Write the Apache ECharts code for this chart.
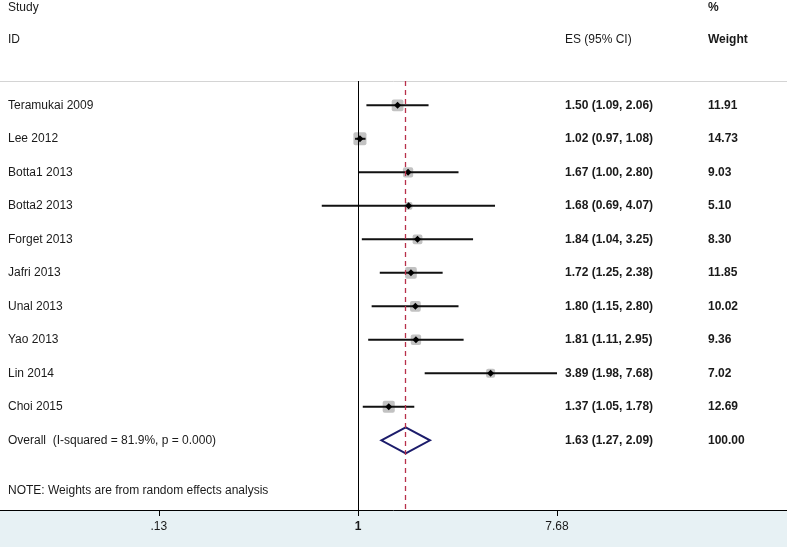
<!DOCTYPE html>
<html>
<head>
	<meta charset="utf-8">
	<title>Forest plot</title>
	<script src="https://cdn.jsdelivr.net/npm/echarts@6/dist/echarts.min.js"></script>
	<style type="text/css">
		html, body { margin: 0; padding: 0; background: #ffffff; }
		#main { width: 787px; height: 547px; }
	</style>
</head>
<body>
	<div id="main"></div>
	<script type="text/javascript">
		// studies, top to bottom
		var studies = ['Teramukai 2009', 'Lee 2012', 'Botta1 2013', 'Botta2 2013', 'Forget 2013',
			'Jafri 2013', 'Unal 2013', 'Yao 2013', 'Lin 2014', 'Choi 2015'];
		var es = [1.50, 1.02, 1.67, 1.68, 1.84, 1.72, 1.80, 1.81, 3.89, 1.37];
		var lower = [1.09, 0.97, 1.00, 0.69, 1.04, 1.25, 1.15, 1.11, 1.98, 1.05];
		var upper = [2.06, 1.08, 2.80, 4.07, 3.25, 2.38, 2.80, 2.95, 7.68, 1.78];
		var weights = [11.91, 14.73, 9.03, 5.10, 8.30, 11.85, 10.02, 9.36, 7.02, 12.69];

		var overallLabel = 'Overall  (I-squared = 81.9%, p = 0.000)';
		var overallEs = 1.63;
		var overallLower = 1.27;
		var overallUpper = 2.09;
		var overallWeight = 100.00;

		var noteText = 'NOTE: Weights are from random effects analysis';
		var xTicks = [0.13, 1, 7.68];
		var xTickLabels = ['.13', '1', '7.68'];

		var FONT = "'Liberation Sans', Arial, sans-serif";
		var TXT = '#1a1a1a';

		function fmt(v) { return v.toFixed(2); }

		// rows: 1..10 studies, 11 overall, 12.5 note
		var studyRows = [];
		for (var i = 0; i < studies.length; i++) {
			studyRows.push([i + 1, es[i], lower[i], upper[i], weights[i]]);
		}
		var overallRow = studies.length + 1;

		var textRows = [];
		for (var i = 0; i < studies.length; i++) {
			textRows.push({ value: [1, i + 1], name: studies[i],
				es: fmt(es[i]) + ' (' + fmt(lower[i]) + ', ' + fmt(upper[i]) + ')', w: fmt(weights[i]) });
		}
		textRows.push({ value: [1, overallRow], name: overallLabel,
			es: fmt(overallEs) + ' (' + fmt(overallLower) + ', ' + fmt(overallUpper) + ')', w: fmt(overallWeight) });
		textRows.push({ value: [1, overallRow + 1.5], name: noteText, es: '', w: '' });

		var myChart = echarts.init(document.getElementById('main'));

		function renderStudy(params, api) {
			var row = api.value(0);
			var pe = api.coord([api.value(1), row]);
			var pl = api.coord([api.value(2), row]);
			var ph = api.coord([api.value(3), row]);
			var s = 3.4 * Math.sqrt(api.value(4));
			var d = 3.5;
			return {
				type: 'group',
				children: [
					{ type: 'rect', shape: { x: pe[0] - s / 2, y: pe[1] - s / 2, width: s, height: s, r: 2 },
						style: { fill: '#c2c2c2' } },
					{ type: 'line', shape: { x1: pl[0], y1: pl[1], x2: ph[0], y2: ph[1] },
						style: { stroke: '#111111', lineWidth: 2 } },
					{ type: 'polygon', shape: { points: [[pe[0] - d, pe[1]], [pe[0], pe[1] - d], [pe[0] + d, pe[1]], [pe[0], pe[1] + d]] },
						style: { fill: '#000000' } }
				]
			};
		}

		function renderOverall(params, api) {
			var row = api.value(0);
			var pe = api.coord([api.value(1), row]);
			var pl = api.coord([api.value(2), row]);
			var ph = api.coord([api.value(3), row]);
			var h = 13;
			return {
				type: 'polygon',
				shape: { points: [[pl[0], pe[1]], [pe[0], pe[1] - h], [ph[0], pe[1]], [pe[0], pe[1] + h]] },
				style: { fill: 'none', stroke: '#1c1c6b', lineWidth: 2 }
			};
		}

		function renderText(params, api) {
			var item = textRows[params.dataIndex];
			var y = api.coord([1, api.value(1)])[1];
			return {
				type: 'group',
				children: [
					{ type: 'text', x: 8, y: y, style: { text: item.name, fill: TXT, font: '12px ' + FONT, verticalAlign: 'middle' } },
					{ type: 'text', x: 565, y: y, style: { text: item.es, fill: TXT, font: 'bold 12px ' + FONT, verticalAlign: 'middle' } },
					{ type: 'text', x: 708, y: y, style: { text: item.w, fill: TXT, font: 'bold 12px ' + FONT, verticalAlign: 'middle' } }
				]
			};
		}

		var xMin = 0.02555, xMax = 81.0;

		var option = {
			backgroundColor: '#ffffff',
			animation: false,
			textStyle: { fontFamily: FONT },
			graphic: [
				{ type: 'rect', z: -10, shape: { x: 0, y: 510, width: 787, height: 37 }, style: { fill: '#e7f1f4' } },
				{ type: 'text', x: 8, y: 8, style: { text: 'Study', fill: TXT, font: '12px ' + FONT, verticalAlign: 'middle' } },
				{ type: 'text', x: 708, y: 8, style: { text: '%', fill: TXT, font: 'bold 12px ' + FONT, verticalAlign: 'middle' } },
				{ type: 'text', x: 8, y: 40, style: { text: 'ID', fill: TXT, font: '12px ' + FONT, verticalAlign: 'middle' } },
				{ type: 'text', x: 565, y: 40, style: { text: 'ES (95% CI)', fill: TXT, font: '12px ' + FONT, verticalAlign: 'middle' } },
				{ type: 'text', x: 708, y: 40, style: { text: 'Weight', fill: TXT, font: 'bold 12px ' + FONT, verticalAlign: 'middle' } }
			],
			grid: { left: 0, right: 0, top: 81, bottom: 37 },
			xAxis: [
				{
					type: 'log', logBase: Math.E, min: xMin, max: xMax, position: 'bottom',
					axisLine: { lineStyle: { color: '#000000', width: 1 } },
					axisTick: { show: true, length: 6, customValues: xTicks, lineStyle: { color: '#000000' } },
					axisLabel: {
						customValues: xTicks, margin: 11, fontSize: 12, color: TXT, fontFamily: FONT,
						formatter: function (v) {
							var idx = xTicks.indexOf(v);
							var lab = idx >= 0 ? xTickLabels[idx] : '';
							return v === 1 ? '{b|' + lab + '}' : lab;
						},
						rich: { b: { fontWeight: 'bold', fontSize: 12, color: TXT, fontFamily: FONT } }
					},
					splitLine: { show: false }
				},
				{
					type: 'log', logBase: Math.E, min: xMin, max: xMax, position: 'top',
					axisLine: { lineStyle: { color: '#d4d4d4', width: 1 } },
					axisTick: { show: false }, axisLabel: { show: false }, splitLine: { show: false }
				}
			],
			yAxis: {
				type: 'value', inverse: true, min: 0.275, max: 13.08, show: false
			},
			series: [
				{
					type: 'custom', name: 'studies', renderItem: renderStudy, data: studyRows,
					encode: { x: [1, 2, 3], y: 0 },
					markLine: {
						silent: true, symbol: 'none', label: { show: false },
						data: [
							{ xAxis: 1, lineStyle: { color: '#000000', width: 1, type: 'solid', opacity: 1 } },
							{ xAxis: overallEs, lineStyle: { color: '#b8304a', width: 1.3, type: [5, 4], opacity: 1 } }
						]
					}
				},
				{
					type: 'custom', name: 'overall', renderItem: renderOverall,
					data: [[overallRow, overallEs, overallLower, overallUpper]],
					encode: { x: [1, 2, 3], y: 0 }
				},
				{
					type: 'custom', name: 'labels', renderItem: renderText, data: textRows,
					encode: { x: 0, y: 1 }
				}
			]
		};

		myChart.setOption(option);
	</script>
</body>
</html>
